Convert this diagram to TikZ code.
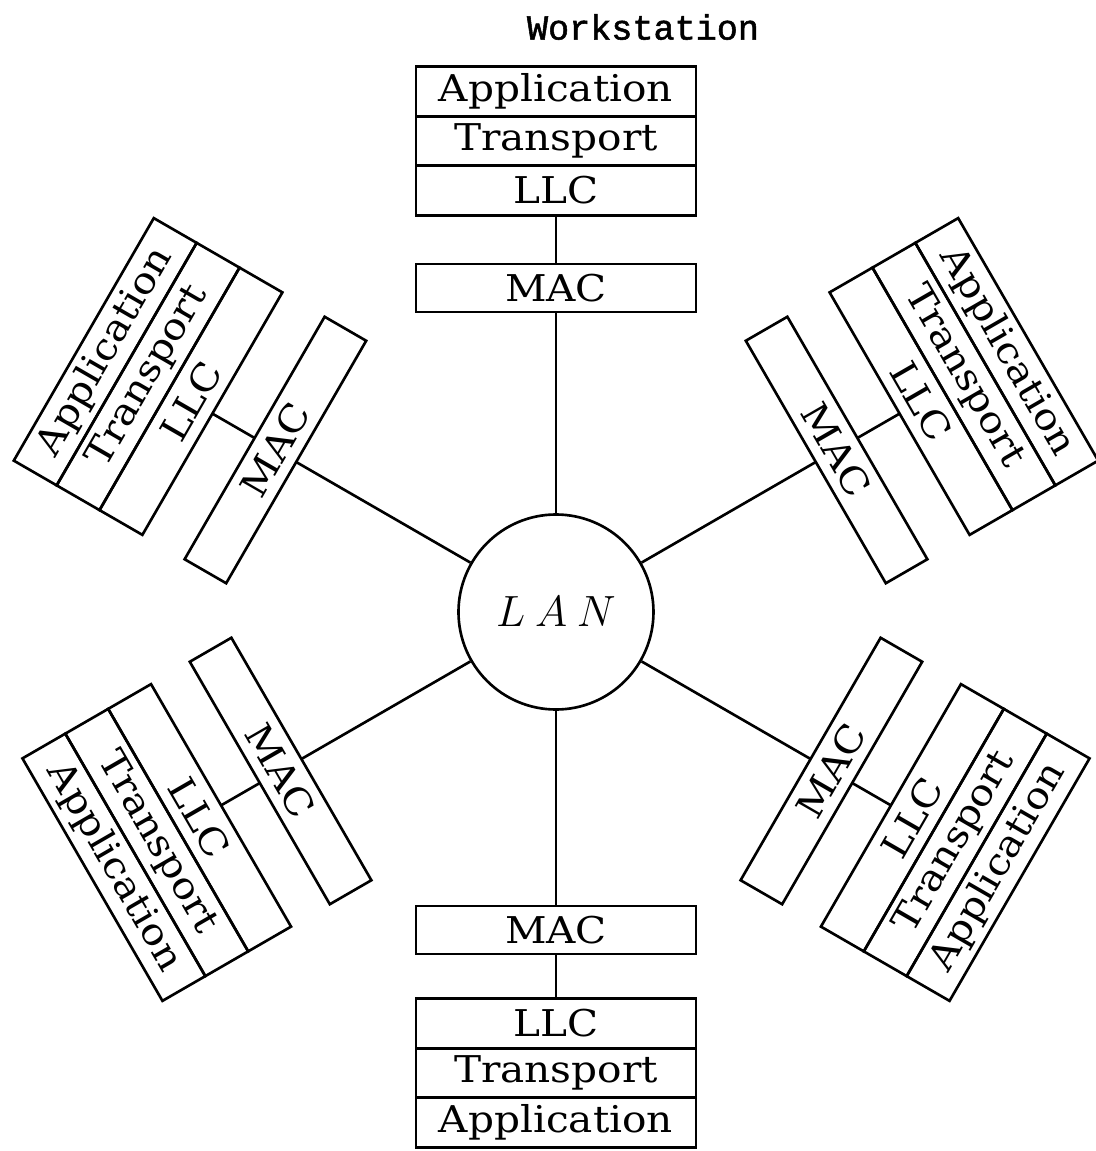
\documentclass[tikz,border=0pt]{standalone}
\usepackage{fontspec}
\setmainfont{DejaVu Serif}[FakeStretch=1.1]
\newfontfamily\typefont{Liberation Mono}[FakeBold=1.5]
\usetikzlibrary{positioning}

\begin{document}
\begin{tikzpicture}[
    layer/.style={draw, line width=1.5pt, minimum width=5.6cm, minimum height=0.99cm, inner sep=0pt, outer sep=0pt, font=\fontsize{21}{21}\selectfont},
    link/.style={line width=1.5pt}
]
    \useasboundingbox (-11.12,-10.78) rectangle (10.8,12.24);

    % LAN in the middle
    \node[circle, draw, line width=1.5pt, minimum size=3.9cm, inner sep=0pt, font=\fontsize{30}{30}\selectfont] (lan) at (0,0) {$L\mkern4mu A\mkern4mu N$};

    % Title
    \node[font=\typefont\fontsize{20}{20}\selectfont] (ws) at (1.74,11.7) {Workstation};

    % Workstations above the LAN
    \foreach \ang/\id in {0/n, -60/ne, 60/nw} {
        \begin{scope}[rotate=\ang, transform shape]
            \node[layer, minimum height=0.96cm] (mac-\id) at (0,6.48) {MAC};
            \node[layer] (tra-\id) at (0,9.42) {Transport};
            \node[layer, above=0pt of tra-\id] (app-\id) {Application};
            \node[layer, below=0pt of tra-\id] (llc-\id) {LLC};
        \end{scope}
        \draw[link] (lan) -- (mac-\id);
        \draw[link] (mac-\id) -- (llc-\id);
    }

    % Workstations below the LAN
    \foreach \ang/\id in {0/s, 60/se, -60/sw} {
        \begin{scope}[rotate=\ang, transform shape]
            \node[layer, minimum height=0.96cm] (mac-\id) at (0,-6.36) {MAC};
            \node[layer] (tra-\id) at (0,-9.22) {Transport};
            \node[layer, above=0pt of tra-\id] (llc-\id) {LLC};
            \node[layer, below=0pt of tra-\id] (app-\id) {Application};
        \end{scope}
        \draw[link] (lan) -- (mac-\id);
        \draw[link] (mac-\id) -- (llc-\id);
    }
\end{tikzpicture}
\end{document}
